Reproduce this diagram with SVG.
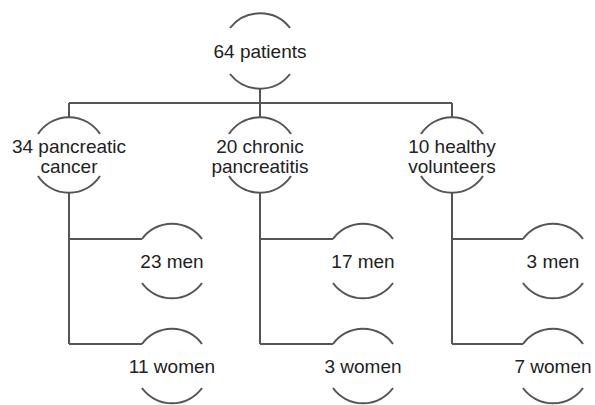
<svg xmlns="http://www.w3.org/2000/svg" width="595" height="405" viewBox="0 0 595 405">
<style>
.arc{fill:none;stroke:#555;stroke-width:2}
.ln{fill:none;stroke:#555;stroke-width:2}
text{font-family:"Liberation Sans",Arial,sans-serif;font-size:19px;fill:#222;text-anchor:middle}
</style>
<rect width="595" height="405" fill="#fff"/>
<g id="connectors" class="ln">
<path d="M260 89V103M69 103H452M69 103V118M260 103V118M452 103V118"/>
<path d="M69 192V344M69 239H142M69 344H142"/>
<path d="M260 192V344M260 239H333M260 344H333"/>
<path d="M452 192V344M452 239H523M452 344H523"/>
</g>
<g id="n-patients">
<path class="arc" d="M230 28A38 38 0 0 1 290 28M230 74A38 38 0 0 0 290 74"/>
<text x="260" y="58">64 patients</text>
</g>
<g id="n-cancer">
<path class="arc" d="M38 134A37 37 0 0 1 100 134M38 176A37 37 0 0 0 100 176"/>
<text x="69" y="153">34 pancreatic</text><text x="69" y="173">cancer</text>
</g>
<g id="n-chronic">
<path class="arc" d="M229 134A37 37 0 0 1 291 134M229 176A37 37 0 0 0 291 176"/>
<text x="260" y="153">20 chronic</text><text x="260" y="173">pancreatitis</text>
</g>
<g id="n-healthy">
<path class="arc" d="M421 134A37 37 0 0 1 483 134M421 176A37 37 0 0 0 483 176"/>
<text x="452" y="153">10 healthy</text><text x="452" y="173">volunteers</text>
</g>
<g id="n-23men">
<path class="arc" d="M142 239A37 37 0 0 1 202 239M142 283A37 37 0 0 0 202 283"/>
<text x="172" y="268">23 men</text>
</g>
<g id="n-11women">
<path class="arc" d="M142 344A37 37 0 0 1 202 344M142 388A37 37 0 0 0 202 388"/>
<text x="172" y="373">11 women</text>
</g>
<g id="n-17men">
<path class="arc" d="M333 239A37 37 0 0 1 393 239M333 283A37 37 0 0 0 393 283"/>
<text x="363" y="268">17 men</text>
</g>
<g id="n-3women">
<path class="arc" d="M333 344A37 37 0 0 1 393 344M333 388A37 37 0 0 0 393 388"/>
<text x="363" y="373">3 women</text>
</g>
<g id="n-3men">
<path class="arc" d="M523 239A37 37 0 0 1 583 239M523 283A37 37 0 0 0 583 283"/>
<text x="553" y="268">3 men</text>
</g>
<g id="n-7women">
<path class="arc" d="M523 344A37 37 0 0 1 583 344M523 388A37 37 0 0 0 583 388"/>
<text x="553" y="373">7 women</text>
</g>
</svg>
